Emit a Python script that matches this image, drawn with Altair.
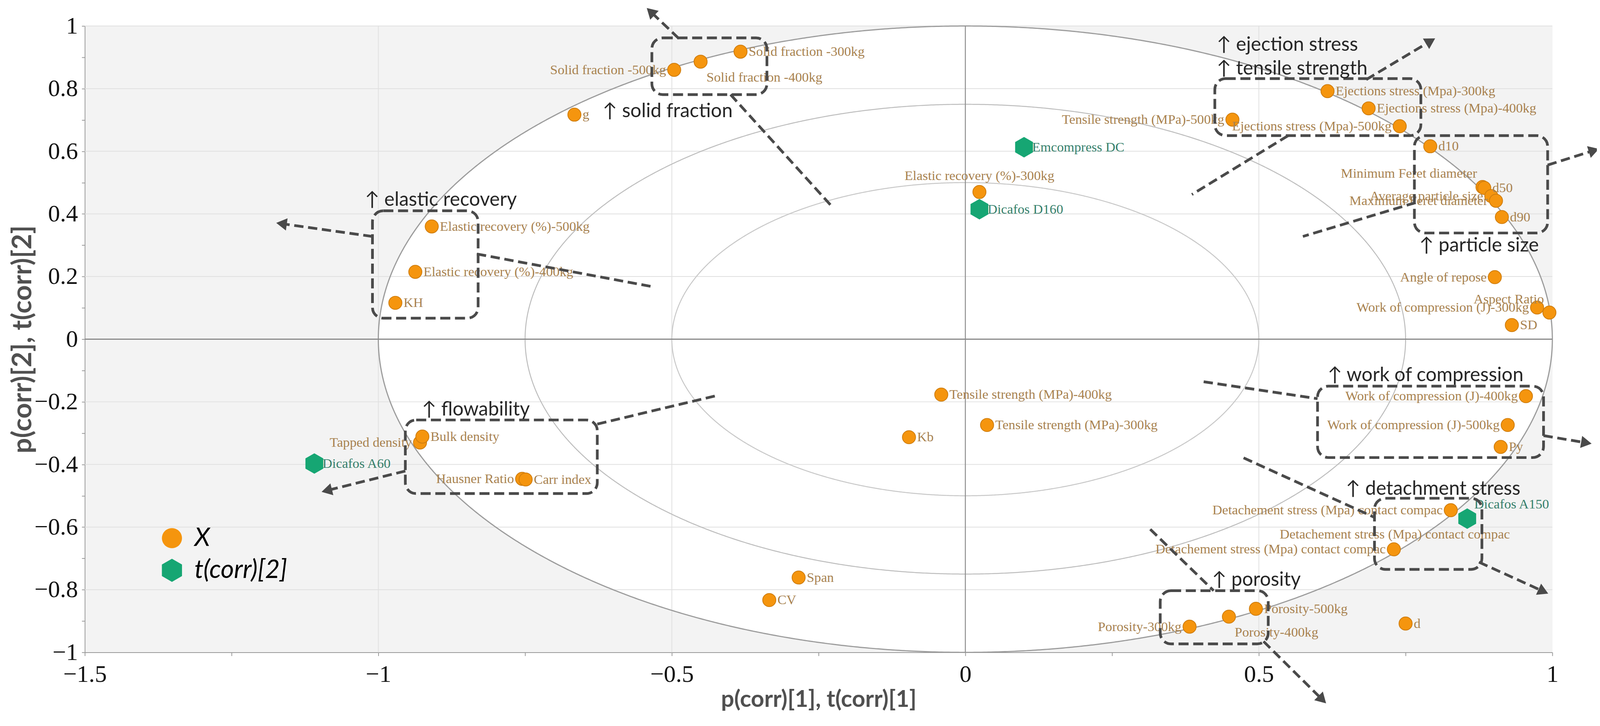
import math
import altair as alt
import pandas as pd

# ---------------- data ----------------
series_names = ["X", "t(corr)[2]"]

x_names = [
    "Solid fraction -300kg", "Solid fraction -400kg", "Solid fraction -500kg", "g",
    "Elastic recovery (%)-500kg", "Elastic recovery (%)-400kg", "KH",
    "Elastic recovery (%)-300kg", "Tensile strength (MPa)-500kg",
    "Ejections stress (Mpa)-300kg", "Ejections stress (Mpa)-400kg", "Ejections stress (Mpa)-500kg",
    "d10", "Minimum Feret diameter", "d50", "Average particle size", "Maximum Feret diameter",
    "d90", "Angle of repose", "Work of compression (J)-300kg", "Aspect Ratio", "SD",
    "Tensile strength (MPa)-400kg", "Tensile strength (MPa)-300kg", "Kb",
    "Tapped density", "Bulk density", "Hausner Ratio", "Carr index", "Span", "CV",
    "Work of compression (J)-400kg", "Work of compression (J)-500kg", "Py",
    "Detachement stress  (Mpa) contact compac", "Detachement stress  (Mpa) contact compac",
    "Detachement stress  (Mpa) contact compac",
    "Porosity-300kg", "Porosity-400kg", "Porosity-500kg", "d",
]
x_p1 = [
    -0.383, -0.451, -0.496, -0.666,
    -0.909, -0.937, -0.971,
    0.024, 0.455,
    0.617, 0.687, 0.740,
    0.792, 0.881, 0.884, 0.896, 0.904,
    0.914, 0.902, 0.974, 0.995, 0.931,
    -0.041, 0.037, -0.096,
    -0.929, -0.925, -0.755, -0.749, -0.284, -0.334,
    0.955, 0.924, 0.912,
    0.827, 0.857, 0.730,
    0.382, 0.449, 0.495, 0.750,
]
x_p2 = [
    0.918, 0.886, 0.860, 0.717,
    0.360, 0.215, 0.116,
    0.470, 0.701,
    0.792, 0.737, 0.680,
    0.616, 0.486, 0.483, 0.457, 0.442,
    0.390, 0.198, 0.101, 0.085, 0.045,
    -0.177, -0.274, -0.313,
    -0.330, -0.311, -0.446, -0.448, -0.761, -0.833,
    -0.182, -0.274, -0.344,
    -0.546, -0.576, -0.671,
    -0.918, -0.886, -0.861, -0.908,
]
x_label_pos = [
    "r", "br", "l", "r",
    "r", "r", "r",
    "t", "l",
    "r", "r", "l",
    "r", "tl", "r", "l", "l",
    "r", "l", "l", "tl", "r",
    "r", "r", "r",
    "l", "r", "l", "r", "r", "r",
    "l", "l", "r",
    "l", "bc", "l",
    "l", "br", "r", "r",
]

t_names = ["Emcompress DC", "Dicafos D160", "Dicafos A60", "Dicafos A150"]
t_t1 = [0.100, 0.024, -1.109, 0.855]
t_t2 = [0.613, 0.415, -0.397, -0.573]
t_label_pos = ["r", "r", "r", "tr"]

# dashed annotation boxes
box_x1 = [-1.010, -0.534, 0.425, 0.765, -0.954, 0.600, 0.697, 0.332]
box_x2 = [-0.830, -0.338, 0.776, 0.992, -0.627, 0.985, 0.880, 0.516]
box_y1 = [0.067, 0.781, 0.650, 0.339, -0.493, -0.378, -0.735, -0.973]
box_y2 = [0.410, 0.962, 0.832, 0.650, -0.258, -0.150, -0.508, -0.803]

# dashed arrows / lines
arrow_x1 = [-1.010, -0.832, -0.488, -0.400, 0.683, 0.550, 0.992, 0.767,
            -0.954, -0.627, 0.406, 0.985, 0.474, 0.875, 0.315, 0.508]
arrow_y1 = [0.328, 0.272, 0.960, 0.781, 0.829, 0.650, 0.556, 0.436,
            -0.421, -0.271, -0.136, -0.308, -0.379, -0.712, -0.607, -0.965]
arrow_x2 = [-1.162, -0.534, -0.534, -0.226, 0.790, 0.386, 1.068, 0.575,
            -1.085, -0.421, 0.600, 1.055, 0.697, 0.982, 0.423, 0.606]
arrow_y2 = [0.368, 0.168, 1.042, 0.421, 0.949, 0.462, 0.601, 0.328,
            -0.482, -0.179, -0.190, -0.330, -0.569, -0.803, -0.803, -1.147]
arrow_head = [1, 0, 1, 0, 1, 0, 1, 0, 1, 0, 0, 1, 0, 1, 0, 1]

note_text = ["\u2191 elastic recovery", "\u2191 solid fraction", "\u2191 ejection stress",
             "\u2191 tensile strength", "\u2191 particle size", "\u2191 flowability",
             "\u2191 work of compression", "\u2191 detachment stress", "\u2191 porosity"]
note_x = [-1.023, -0.618, 0.428, 0.428, 0.773, -0.926, 0.617, 0.648, 0.420]
note_y = [0.445, 0.728, 0.939, 0.863, 0.298, -0.225, -0.115, -0.478, -0.769]

circle_radii = [1.0, 0.75, 0.5]
grid_x = [-1.0, -0.5, 0.5]
grid_y = [-0.8, -0.6, -0.4, -0.2, 0.2, 0.4, 0.6, 0.8, 1.0]
x_ticks = [-1.5, -1.25, -1.0, -0.75, -0.5, -0.25, 0.0, 0.25, 0.5, 0.75, 1.0]
y_ticks = [round(-1 + 0.1 * i, 1) for i in range(21)]

# ---------------- styles ----------------
W, H = 3790, 1618
ORANGE = "#F5950E"
ORANGE_EDGE = "#CF7D0E"
GREEN = "#16A673"
TAN = "#A8824F"
TEAL = "#357F6B"
DARK = "#4a4a4a"
HEX = "M0,-1.15L1,-0.575L1,0.575L0,1.15L-1,0.575L-1,-0.575Z"
XTITLE = "p(corr)[1], t(corr)[1]"
YTITLE = "p(corr)[2], t(corr)[2]"
SERIF = "Liberation Serif, Times New Roman, serif"

xs = alt.Scale(domain=[-1.5, 1.0], nice=False, zero=False)
ys = alt.Scale(domain=[-1.0, 1.0], nice=False, zero=False)

x_axis = alt.Axis(
    values=x_ticks, format=".2~f",
    labelExpr="abs(round(datum.value*4)) % 2 == 1 ? '' : datum.label",
    grid=False, domainColor="#999999", domainWidth=2, tickColor="#999999", tickWidth=2,
    tickSize=9, labelFont=SERIF, labelFontSize=62, labelColor="#111111",
    labelPadding=18, labelFlush=False, labelOverlap=False,
    titleFont="Lato", titleFontWeight="bold", titleFontSize=60, titleColor="#505050",
    titleY=122, titleBaseline="middle",
)
y_axis = alt.Axis(
    values=y_ticks, format=".1~f",
    labelExpr="abs(round(datum.value*10)) % 2 == 1 ? '' : datum.label",
    grid=False, domainColor="#999999", domainWidth=2, tickColor="#999999", tickWidth=2,
    tickSize=8, labelFont=SERIF, labelFontSize=62, labelColor="#111111",
    labelPadding=10, labelFlush=False, labelOverlap=False,
    titleFont="Lato", titleFontWeight="bold", titleFontSize=70, titleColor="#505050",
    titleX=-160, titleY=H / 2, titleAngle=270, titleBaseline="middle", titleAlign="center",
)


def X(field):
    return alt.X(field, type="quantitative", scale=xs, axis=x_axis, title=XTITLE)


def Y(field):
    return alt.Y(field, type="quantitative", scale=ys, axis=y_axis, title=YTITLE)


legend_kw = dict(title=None, symbolSize=2700, labelLimit=800, labelFont="Lato",
                 labelFontStyle="italic", labelFontSize=66, labelColor="#000000",
                 rowPadding=17, labelOffset=25, padding=0, symbolStrokeWidth=0,
                 orient="none", legendX=192, legendY=1290)

color_enc = alt.Color("series:N", scale=alt.Scale(domain=series_names, range=[ORANGE, GREEN]),
                      legend=alt.Legend(**legend_kw))
shape_enc = alt.Shape("series:N", scale=alt.Scale(domain=series_names, range=["circle", HEX]),
                      legend=alt.Legend(**legend_kw))

layers = []

# white interior of the unit correlation ellipse
layers.append(
    alt.Chart(alt.sequence(-1, 1.00001, 0.0005, as_="t"))
    .transform_calculate(yt="sqrt(max(0, 1 - datum.t*datum.t))",
                         yb="-sqrt(max(0, 1 - datum.t*datum.t))")
    .mark_area(color="white", opacity=1)
    .encode(x=X("t"), y=Y("yt"), y2=alt.Y2("yb:Q"))
)

# gridlines
layers.append(alt.Chart(pd.DataFrame({"g": grid_x})).mark_rule(color="#e0e0e0", strokeWidth=2)
              .encode(x=X("g")))
layers.append(alt.Chart(pd.DataFrame({"g": grid_y})).mark_rule(color="#e0e0e0", strokeWidth=2)
              .encode(y=Y("g")))

# correlation ellipses
circle_style = {1.0: ("#9c9c9c", 3), 0.75: ("#bdbdbd", 2.5), 0.5: ("#c8c8c8", 2.5)}
for r in circle_radii:
    col, w = circle_style[r]
    layers.append(
        alt.Chart(alt.sequence(0, 6.30, 0.004, as_="a"))
        .transform_calculate(cx=f"{r}*cos(datum.a)", cy=f"{r}*sin(datum.a)")
        .mark_line(color=col, strokeWidth=w)
        .encode(x=X("cx"), y=Y("cy"), order=alt.Order("a:Q"))
    )

# zero lines
layers.append(alt.Chart(pd.DataFrame({"z": [0.0]})).mark_rule(color="#8f8f8f", strokeWidth=2.5)
              .encode(x=X("z")))
layers.append(alt.Chart(pd.DataFrame({"z": [0.0]})).mark_rule(color="#8a8a8a", strokeWidth=3)
              .encode(y=Y("z")))

# points
pts = pd.concat([
    pd.DataFrame({"name": x_names, "c1": x_p1, "c2": x_p2, "series": series_names[0], "pos": x_label_pos}),
    pd.DataFrame({"name": t_names, "c1": t_t1, "c2": t_t2, "series": series_names[1], "pos": t_label_pos}),
], ignore_index=True)

layers.append(
    alt.Chart(pts[pts["series"] == series_names[0]])
    .mark_point(filled=True, opacity=1, size=1156, stroke=ORANGE_EDGE, strokeWidth=2)
    .encode(x=X("c1"), y=Y("c2"), color=color_enc, shape=shape_enc)
)
layers.append(
    alt.Chart(pts[pts["series"] == series_names[1]])
    .mark_point(filled=True, opacity=1, size=2116, strokeWidth=0)
    .encode(x=X("c1"), y=Y("c2"), color=color_enc, shape=shape_enc)
)

# point labels
label_style = {
    "r": dict(align="left", dx=21, dy=0),
    "l": dict(align="right", dx=-21, dy=0),
    "t": dict(align="center", dx=0, dy=-42),
    "br": dict(align="left", dx=15, dy=40),
    "tl": dict(align="right", dx=-14, dy=-35),
    "tr": dict(align="left", dx=18, dy=-37),
    "bc": dict(align="center", dx=-190, dy=38),
}
for ser, col in zip(series_names, [TAN, TEAL]):
    for code, st in label_style.items():
        sub = pts[(pts["series"] == ser) & (pts["pos"] == code)]
        if len(sub) == 0:
            continue
        layers.append(
            alt.Chart(sub).mark_text(baseline="middle", font=SERIF, fontSize=35,
                                     color=col, **st)
            .encode(x=X("c1"), y=Y("c2"), text="name:N")
        )

# dashed boxes
boxes = pd.DataFrame({"x1": box_x1, "x2": box_x2, "y1": box_y1, "y2": box_y2})
layers.append(
    alt.Chart(boxes).mark_rect(fillOpacity=0, stroke=DARK, strokeWidth=7, strokeDash=[26, 12],
                               cornerRadius=28)
    .encode(x=X("x1"), x2="x2:Q", y=Y("y1"), y2="y2:Q")
)

# dashed arrows
arrows = pd.DataFrame({"x1": arrow_x1, "y1": arrow_y1, "x2": arrow_x2, "y2": arrow_y2, "head": arrow_head})
px_x, px_y = W / 2.5, H / 2.0
arrows["ang"] = [
    (math.degrees(math.atan2((bx - ax) * px_x, (by - ay) * px_y)) + 360) % 360
    for ax, ay, bx, by in zip(arrow_x1, arrow_y1, arrow_x2, arrow_y2)
]
layers.append(
    alt.Chart(arrows).mark_rule(color=DARK, strokeWidth=7, strokeDash=[24, 12])
    .encode(x=X("x1"), y=Y("y1"), x2="x2:Q", y2="y2:Q")
)
layers.append(
    alt.Chart(arrows[arrows["head"] == 1]).mark_point(shape="triangle", filled=True, size=1000,
                                                     color=DARK, opacity=1)
    .encode(x=X("x2"), y=Y("y2"), angle=alt.Angle("ang:Q", scale=None))
)

# annotation texts
notes = pd.DataFrame({"text": note_text, "x": note_x, "y": note_y})
layers.append(
    alt.Chart(notes).mark_text(align="left", baseline="middle", font="Lato", fontSize=50, color="#262626")
    .encode(x=X("x"), y=Y("y"), text="text:N")
)

chart = alt.layer(*layers).properties(
    width=W, height=H,
    autosize=alt.AutoSizeParams(type="none"),
    padding={"left": 211, "top": 51, "right": 115, "bottom": 164},
).configure_view(fill="#f3f3f3", stroke="transparent").configure_legend(
    orient="none", legendX=192, legendY=1290, symbolSize=2700, labelFont="Lato",
    labelFontStyle="italic", labelFontSize=66, labelColor="#000000", rowPadding=17,
    labelOffset=25, padding=0, symbolStrokeWidth=0, labelLimit=800,
)

chart.save("out.html", embed_options={"renderer": "svg", "actions": False})
